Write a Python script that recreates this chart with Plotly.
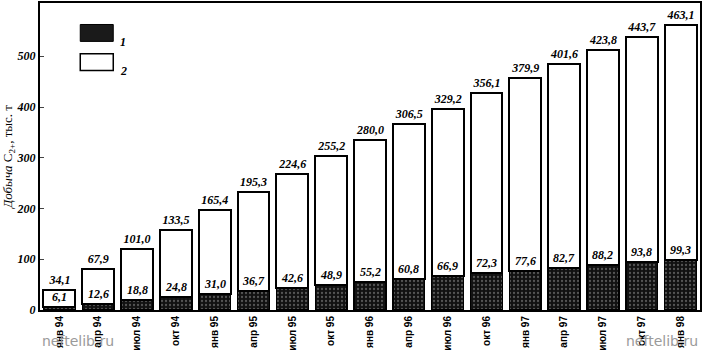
import plotly.graph_objects as go

categories = ["янв 94", "апр 94", "июл 94", "окт 94", "янв 95", "апр 95", "июл 95", "окт 95",
              "янв 96", "апр 96", "июл 96", "окт 96", "янв 97", "апр 97", "июл 97", "окт 97", "янв 98"]
series1 = [6.1, 12.6, 18.8, 24.8, 31.0, 36.7, 42.6, 48.9, 55.2, 60.8, 66.9, 72.3, 77.6, 82.7, 88.2, 93.8, 99.3]
series2 = [34.1, 67.9, 101.0, 133.5, 165.4, 195.3, 224.6, 255.2, 280.0, 306.5, 329.2, 356.1, 379.9, 401.6, 423.8, 443.7, 463.1]
y_ticks = [0, 100, 200, 300, 400, 500]

def fmt(v):
    return f"{v:.1f}".replace(".", ",")

label_font = dict(family="Liberation Serif", size=12, color="black")

fig = go.Figure()
fig.add_trace(go.Bar(
    x=categories, y=series1, name="1",
    marker=dict(color="#111111", line=dict(color="black", width=1.5),
                pattern=dict(shape=".", fgcolor="#999999", bgcolor="#111111", size=4, solidity=0.25)),
    width=0.82,
))
fig.add_trace(go.Bar(
    x=categories, y=series2, name="2",
    marker=dict(color="white", line=dict(color="black", width=2)),
    width=0.82,
    text=[f"<b><i>{fmt(v)}</i></b>" for v in series2],
    textposition="outside", textfont=label_font, cliponaxis=False,
))

for c, v in zip(categories, series1):
    fig.add_annotation(x=c, y=v, text=f"<b><i>{fmt(v)}</i></b>", showarrow=False,
                       yanchor="bottom", yshift=1, font=label_font)

# legend drawn as swatches
fig.add_shape(type="rect", xref="paper", yref="paper", x0=0.061, x1=0.111, y0=0.875, y1=0.93,
              fillcolor="#1a1a1a", line=dict(color="black", width=1))
fig.add_shape(type="rect", xref="paper", yref="paper", x0=0.061, x1=0.111, y0=0.78, y1=0.835,
              fillcolor="white", line=dict(color="black", width=1.5))
fig.add_annotation(xref="paper", yref="paper", x=0.118, y=0.902, text="<b><i>1</i></b>",
                   showarrow=False, xanchor="left", font=label_font)
fig.add_annotation(xref="paper", yref="paper", x=0.118, y=0.807, text="<b><i>2</i></b>",
                   showarrow=False, xanchor="left", font=label_font)

# watermarks
for xx, anchor in [(0.0, "left"), (1.0, "right")]:
    fig.add_annotation(xref="paper", yref="paper", x=xx, y=-0.1, text="neftelib.ru",
                       showarrow=False, xanchor=anchor, yanchor="middle",
                       font=dict(family="DejaVu Sans", size=14, color="#9a9a9a"))

fig.update_layout(
    width=703, height=354,
    margin=dict(l=40, r=2, t=1, b=44),
    barmode="stack", bargap=0.18,
    plot_bgcolor="white", paper_bgcolor="white",
    showlegend=False,
    font=dict(family="Liberation Serif", color="black"),
)
fig.update_xaxes(
    tickvals=categories, ticktext=[f"<b>{c}</b>" for c in categories],
    tickangle=-90, tickfont=dict(family="Liberation Sans", size=10, color="black"),
    showline=True, linecolor="black", linewidth=2, mirror=True, ticks="",
)
fig.update_yaxes(
    range=[0, 605], tickvals=y_ticks,
    ticktext=[f"<b><i>{t}</i></b>" for t in y_ticks],
    tickfont=dict(family="Liberation Serif", size=12, color="black"),
    showline=True, linecolor="black", linewidth=2, mirror=True,
    ticks="inside", ticklen=4, showgrid=False, zeroline=False,
    title=dict(text="<i>Добыча</i> C<sub>2+</sub>, тыс. т", font=dict(family="Liberation Serif", size=13), standoff=4),
)

fig.write_html("out.html")
